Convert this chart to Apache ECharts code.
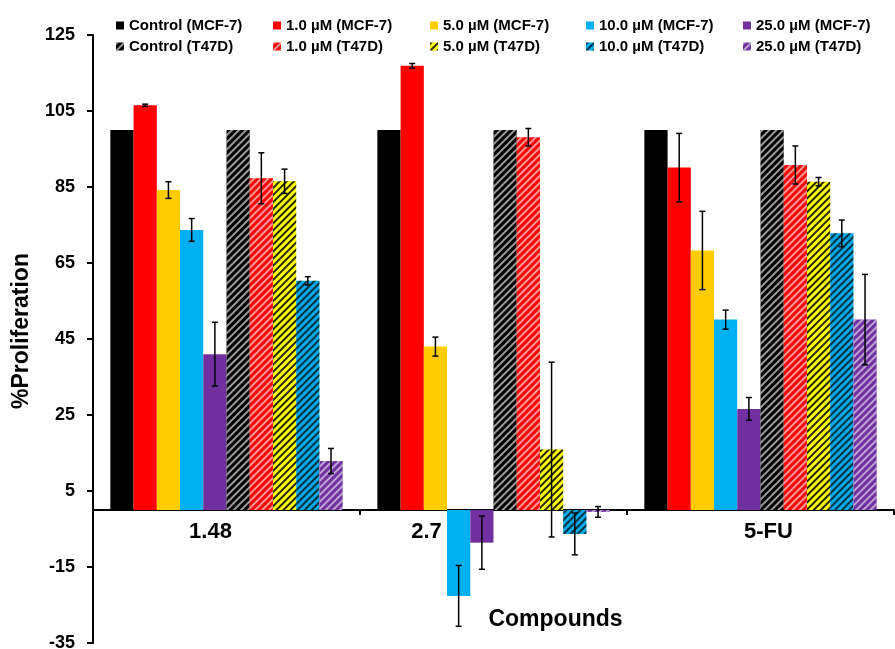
<!DOCTYPE html>
<html>
<head>
<meta charset="utf-8">
<script src="https://cdn.jsdelivr.net/npm/echarts@6/dist/echarts.min.js"></script>
<style>
html,body{margin:0;padding:0;background:#fff;}
#chart{width:895px;height:649px;}
</style>
</head>
<body>
<div id="chart"></div>
<script>
// ---- data ----
const categories = ['1.48', '2.7', '5-FU'];
const seriesNames = [
  'Control (MCF-7)', '1.0 µM (MCF-7)', '5.0 µM (MCF-7)', '10.0 µM (MCF-7)', '25.0 µM (MCF-7)',
  'Control (T47D)', '1.0 µM (T47D)', '5.0 µM (T47D)', '10.0 µM (T47D)', '25.0 µM (T47D)'
];
const mcf7Control = [100, 100, 100];
const mcf7Dose1 = [106.5, 116.9, 90.1];
const mcf7Dose5 = [84.2, 43.0, 68.3];
const mcf7Dose10 = [73.7, -22.6, 50.1];
const mcf7Dose25 = [41.0, -8.6, 26.6];
const t47dControl = [100, 100, 100];
const t47dDose1 = [87.3, 98.1, 90.8];
const t47dDose5 = [86.5, 15.9, 86.4];
const t47dDose10 = [60.3, -6.3, 72.8];
const t47dDose25 = [12.9, -0.5, 50.1];

const mcf7ControlErr = [0, 0, 0];
const mcf7Dose1Err = [0.3, 0.6, 9.0];
const mcf7Dose5Err = [2.2, 2.5, 10.3];
const mcf7Dose10Err = [3.0, 8.0, 2.5];
const mcf7Dose25Err = [8.4, 7.0, 3.0];
const t47dControlErr = [0, 0, 0];
const t47dDose1Err = [6.7, 2.3, 5.0];
const t47dDose5Err = [3.2, 23.0, 1.1];
const t47dDose10Err = [1.1, 5.5, 3.5];
const t47dDose25Err = [3.3, 1.4, 11.9];

const yTicks = [-35, -15, 5, 25, 45, 65, 85, 105, 125];

// ---- styling ----
const values = [mcf7Control, mcf7Dose1, mcf7Dose5, mcf7Dose10, mcf7Dose25,
                t47dControl, t47dDose1, t47dDose5, t47dDose10, t47dDose25];
const errors = [mcf7ControlErr, mcf7Dose1Err, mcf7Dose5Err, mcf7Dose10Err, mcf7Dose25Err,
                t47dControlErr, t47dDose1Err, t47dDose5Err, t47dDose10Err, t47dDose25Err];
const baseColors = ['#000000', '#FF0000', '#FFCC00', '#00B0F0', '#7030A0',
                    '#000000', '#FF0000', '#FFFF00', '#00A8E8', '#7030A0'];
const decalColors = [null, null, null, null, null,
  'rgba(255,255,255,0.6)', 'rgba(255,255,255,0.6)', 'rgba(0,0,0,0.85)', 'rgba(0,0,0,0.7)', 'rgba(255,255,255,0.55)'];
const GAP = 0.13;
const FONT = '"Liberation Sans", Arial, sans-serif';

const barSeries = seriesNames.map((name, i) => {
  const itemStyle = { color: baseColors[i] };
  if (decalColors[i]) {
    itemStyle.decal = {
      symbol: 'rect', symbolSize: 1, color: decalColors[i],
      dashArrayX: [1, 0], dashArrayY: [1.4, 2.2], rotation: -Math.PI / 4
    };
  }
  return {
    name: name, type: 'bar', data: values[i],
    barGap: 0, barCategoryGap: (GAP * 100) + '%',
    itemStyle: itemStyle, z: 2
  };
});

const errData = [];
values.forEach((arr, si) => arr.forEach((v, ci) => {
  if (errors[si][ci] > 0) errData.push([ci, v, errors[si][ci], si]);
}));

const errSeries = {
  type: 'custom', name: 'err', data: errData, z: 5, silent: true,
  encode: { x: 0, y: 1 },
  renderItem: function (params, api) {
    const ci = api.value(0), v = api.value(1), e = api.value(2), si = api.value(3);
    const c = api.coord([ci, v]);
    const band = api.size([1, 0])[0];
    const gw = band * (1 - GAP);
    const bw = gw / 10;
    const x = c[0] - gw / 2 + (si + 0.5) * bw;
    const yt = api.coord([ci, v + e])[1];
    const yb = api.coord([ci, v - e])[1];
    const cap = 3;
    const st = { stroke: '#000', lineWidth: 1.5 };
    return { type: 'group', children: [
      { type: 'line', shape: { x1: x, y1: yt, x2: x, y2: yb }, style: st },
      { type: 'line', shape: { x1: x - cap, y1: yt, x2: x + cap, y2: yt }, style: st },
      { type: 'line', shape: { x1: x - cap, y1: yb, x2: x + cap, y2: yb }, style: st }
    ]};
  }
};

const legendLefts = [111, 268, 425, 581, 738];
const legends = legendLefts.map((l, k) => ({
  left: l, top: 13, orient: 'vertical', itemWidth: 8, itemHeight: 8, itemGap: 6,
  icon: 'rect', selectedMode: false,
  data: [seriesNames[k], seriesNames[k + 5]],
  textStyle: { fontFamily: FONT, fontWeight: 'bold', fontSize: 15, color: '#000' }
}));

const labelShift = { c0: [0, 32, 0, 0], c1: [0, 134, 0, 0], c2: [0, 0, 0, 16] };
const rich = {};
Object.keys(labelShift).forEach(k => {
  rich[k] = { fontFamily: FONT, fontWeight: 'bold', fontSize: 22, color: '#000', padding: labelShift[k] };
});

const option = {
  backgroundColor: '#fff',
  animation: false,
  legend: legends,
  grid: { left: 93, right: 1, top: 35, bottom: 6, containLabel: false, outerBoundsMode: 'none' },
  xAxis: {
    type: 'category', data: categories,
    name: 'Compounds', nameLocation: 'middle', nameGap: -35,
    nameTextStyle: { fontFamily: FONT, fontWeight: 'bold', fontSize: 23, color: '#000', padding: [0, 0, 0, 124] },
    axisLine: { onZero: true, lineStyle: { color: '#000', width: 2 } },
    axisTick: { show: true, length: 5, lineStyle: { color: '#000', width: 2 } },
    axisLabel: {
      margin: -122,
      formatter: function (v, i) { return '{c' + i + '|' + v + '}'; },
      rich: rich
    },
    splitLine: { show: false }
  },
  yAxis: {
    type: 'value', min: yTicks[0], max: yTicks[yTicks.length - 1], interval: yTicks[1] - yTicks[0],
    name: '%Proliferation', nameLocation: 'middle', nameGap: 60, nameRotate: 90,
    nameTextStyle: { fontFamily: FONT, fontWeight: 'bold', fontSize: 23, color: '#000', padding: [0, 0, 0, 16] },
    axisLine: { show: true, lineStyle: { color: '#000', width: 2 } },
    axisTick: { show: true, length: 6, lineStyle: { color: '#000', width: 2 } },
    axisLabel: { margin: 18, fontFamily: FONT, fontWeight: 'bold', fontSize: 18, color: '#000' },
    splitLine: { show: false }
  },
  series: barSeries.concat([errSeries])
};

const chart = echarts.init(document.getElementById('chart'), null, { renderer: 'canvas' });
chart.setOption(option);
</script>
</body>
</html>
